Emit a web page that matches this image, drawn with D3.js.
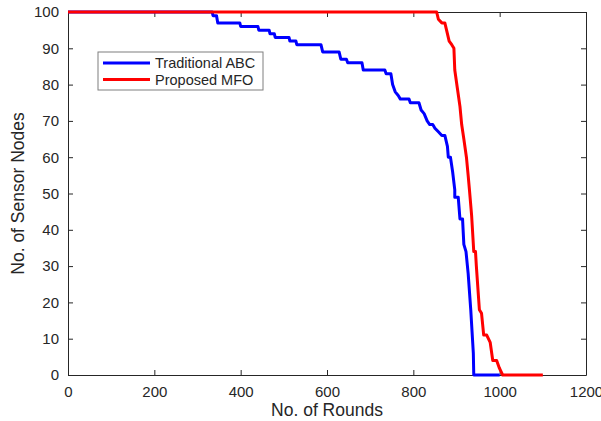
<!DOCTYPE html>
<html>

<head>
    <meta charset="utf-8">
    <title>No. of Sensor Nodes vs Rounds</title>
    <script src="https://cdn.jsdelivr.net/npm/d3@7"></script>
    <style>
        body {
            margin: 0;
            background: #fff;
        }

        text {
            font-family: "Liberation Sans", Arial, sans-serif;
            fill: #262626;
        }

        .axis path,
        .axis line {
            stroke: #262626;
        }

        .axis text {
            font-size: 15px;
        }
    </style>
</head>

<body>
    <script>
        // Traditional ABC (rounds, alive nodes)
        const abcRounds = [0, 334, 336, 344, 347, 398, 400, 440, 442, 466, 468, 478, 480, 512, 514, 528, 530, 586, 590, 628, 632, 645, 648, 681, 684, 734, 737, 748, 752, 758, 765, 770, 790, 793, 813, 818, 825, 832, 838, 845, 850, 858, 866, 873, 879, 881, 886, 891, 896, 896, 904, 908, 914, 917, 922, 927, 933, 939, 940, 1000];
        const abcNodes = [100, 100, 99, 99, 97, 97, 96, 96, 95, 95, 94, 94, 93, 93, 92, 92, 91, 91, 89, 89, 87, 87, 86, 86, 84, 84, 83, 83, 80, 78, 77, 76, 76, 75, 75, 73, 72, 70, 69, 69, 68, 67, 66, 66, 63, 60, 60, 56, 51, 49, 49, 43, 43, 36, 34, 28, 18, 6, 0, 0];

        // Proposed MFO (rounds, alive nodes)
        const mfoRounds = [0, 854, 858, 866, 873, 877, 883, 889, 894, 896, 902, 908, 912, 917, 923, 927, 930, 935, 940, 944, 946, 953, 958, 963, 970, 978, 984, 993, 999, 1003, 1007, 1100];
        const mfoNodes = [100, 100, 98, 97, 97, 95, 92, 91, 90, 84, 79, 74, 69, 65, 60, 55, 51, 44, 34, 34, 30, 18, 17, 11, 11, 9, 4, 4, 2, 1, 0, 0];

        const xTicks = [0, 200, 400, 600, 800, 1000, 1200];
        const yTicks = [0, 10, 20, 30, 40, 50, 60, 70, 80, 90, 100];

        const seriesNames = ['Traditional ABC', 'Proposed MFO'];
        const seriesColors = ['#0000ff', '#ff0000'];

        const width = 601;
        const height = 421;
        const margin = { top: 12, right: 15, bottom: 46, left: 68 };
        const innerW = width - margin.left - margin.right;
        const innerH = height - margin.top - margin.bottom;

        const svg = d3.select('body')
            .append('svg')
            .attr('width', width)
            .attr('height', height);

        const g = svg.append('g')
            .attr('transform', `translate(${margin.left}, ${margin.top})`);

        const xScale = d3.scaleLinear().domain([0, 1200]).range([0, innerW]);
        const yScale = d3.scaleLinear().domain([0, 100]).range([innerH, 0]);

        // Axes (MATLAB style, ticks inward, boxed)
        g.append('g')
            .attr('class', 'axis')
            .attr('transform', `translate(0, ${innerH})`)
            .call(d3.axisBottom(xScale).tickValues(xTicks).tickFormat(d3.format('d'))
                .tickSizeInner(-5).tickSizeOuter(0).tickPadding(11));

        g.append('g')
            .attr('class', 'axis')
            .call(d3.axisLeft(yScale).tickValues(yTicks).tickFormat(d3.format('d'))
                .tickSizeInner(-5).tickSizeOuter(0).tickPadding(9));

        g.append('g')
            .attr('class', 'axis')
            .call(d3.axisTop(xScale).tickValues(xTicks).tickSizeInner(-5).tickSizeOuter(0).tickFormat(''));

        g.append('g')
            .attr('class', 'axis')
            .attr('transform', `translate(${innerW}, 0)`)
            .call(d3.axisRight(yScale).tickValues(yTicks).tickSizeInner(-5).tickSizeOuter(0).tickFormat(''));

        // Lines
        const line = d3.line()
            .x(d => xScale(d[0]))
            .y(d => yScale(d[1]));

        const series = [
            d3.zip(abcRounds, abcNodes),
            d3.zip(mfoRounds, mfoNodes)
        ];

        series.forEach((pts, i) => {
            g.append('path')
                .datum(pts)
                .attr('fill', 'none')
                .attr('stroke', seriesColors[i])
                .attr('stroke-width', 3)
                .attr('stroke-linejoin', 'round')
                .attr('d', line);
        });

        // Legend
        const legend = svg.append('g').attr('transform', 'translate(98, 52)');
        legend.append('rect')
            .attr('width', 165)
            .attr('height', 38)
            .attr('fill', '#fff')
            .attr('stroke', '#7f7f7f')
            .attr('stroke-width', 1);

        seriesNames.forEach((name, i) => {
            const y = 11 + i * 16.5;
            legend.append('line')
                .attr('x1', 5).attr('x2', 52)
                .attr('y1', y).attr('y2', y)
                .attr('stroke', seriesColors[i])
                .attr('stroke-width', 3);
            legend.append('text')
                .attr('x', 57)
                .attr('y', y + 5)
                .style('font-size', '14.5px')
                .text(name);
        });

        // Axis labels
        svg.append('text')
            .attr('x', margin.left + innerW / 2)
            .attr('y', 416)
            .attr('text-anchor', 'middle')
            .style('font-size', '17.5px')
            .text('No. of Rounds');

        svg.append('text')
            .attr('transform', `translate(24, ${margin.top + innerH / 2}) rotate(-90)`)
            .attr('text-anchor', 'middle')
            .style('font-size', '17.5px')
            .text('No. of Sensor Nodes');
    </script>
</body>

</html>
